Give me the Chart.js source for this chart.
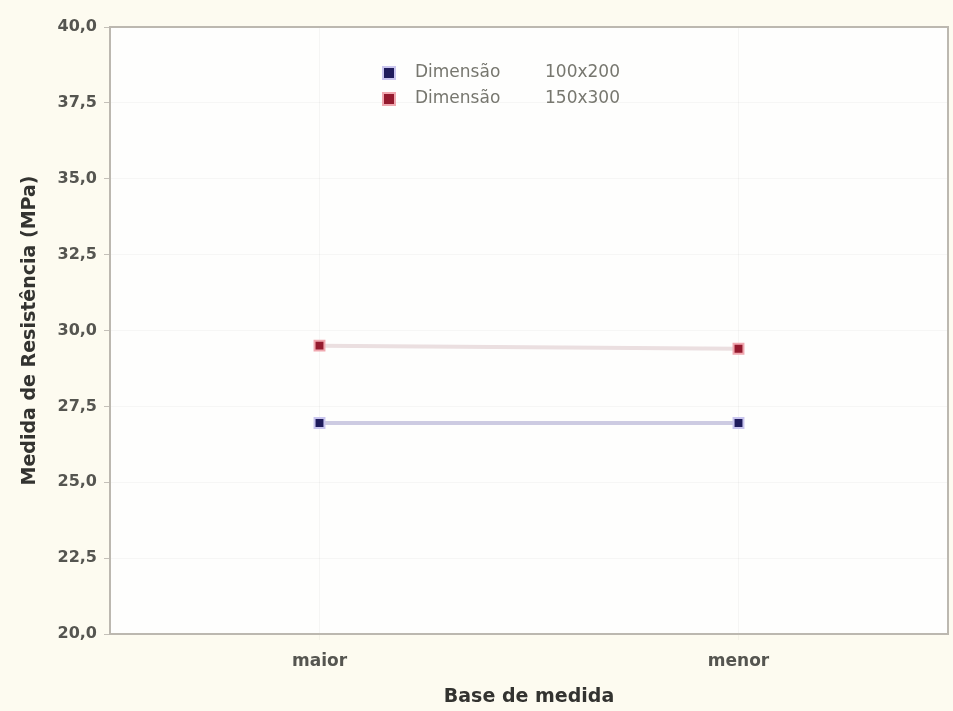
<!DOCTYPE html>
<html>
<head>
<meta charset="utf-8">
<script src="https://cdn.jsdelivr.net/npm/chart.js@4"></script>
<style>
  html, body { margin: 0; padding: 0; background: #fdfbf0; }
  #wrap { width: 953px; height: 711px; }
</style>
</head>
<body>
<div id="wrap"><canvas id="c" width="953" height="711"></canvas></div>
<script>
// Categories on the x axis
const categories = ['maior', 'menor'];
// Specimen sizes (one series each)
const specimenSizes = ['100x200', '150x300'];
const seriesPrefix = 'Dimensão';
// Mean values per category
const values100x200 = [26.95, 26.95];
const values150x300 = [29.5, 29.4];
// Y axis range and step
const yMin = 20, yMax = 40, yStep = 2.5;

const axisTitleX = 'Base de medida';
const axisTitleY = 'Medida de Resistência (MPa)';

const FONT = 'DejaVu Sans';

// Backgrounds: cream page, white plotting area, grey frame
const framePlugin = {
  id: 'frame',
  beforeDraw(chart) {
    const { ctx, chartArea: a } = chart;
    ctx.save();
    ctx.fillStyle = '#fdfbf0';
    ctx.fillRect(0, 0, chart.width, chart.height);
    ctx.fillStyle = '#fefefd';
    ctx.fillRect(a.left, a.top, a.right - a.left, a.bottom - a.top);
    ctx.restore();
  },
  afterDatasetsDraw(chart) {
    const { ctx, chartArea: a } = chart;
    ctx.save();
    ctx.strokeStyle = '#bcb8b0';
    ctx.lineWidth = 2;
    ctx.strokeRect(a.left, a.top, a.right - a.left, a.bottom - a.top);
    ctx.restore();
  }
};

// Legend drawn inside the plotting area, two columns of text
const innerLegend = {
  id: 'innerLegend',
  afterDraw(chart) {
    const { ctx } = chart;
    ctx.save();
    ctx.font = '17px "' + FONT + '"';
    ctx.textBaseline = 'middle';
    chart.data.datasets.forEach((ds, i) => {
      const y = 73 + i * 26;
      ctx.fillStyle = ds.pointBorderColor;
      ctx.fillRect(382, y - 7, 14, 14);
      ctx.fillStyle = ds.pointBackgroundColor;
      ctx.fillRect(384, y - 5, 10, 10);
      ctx.fillStyle = '#77776f';
      ctx.fillText(seriesPrefix, 415, y);
      ctx.fillText(specimenSizes[i], 545, y);
    });
    ctx.restore();
  }
};

new Chart(document.getElementById('c'), {
  type: 'line',
  data: {
    labels: categories,
    datasets: [
      {
        label: seriesPrefix + ' ' + specimenSizes[0],
        data: values100x200,
        borderColor: '#cdcbe2',
        borderWidth: 4,
        pointStyle: 'rect',
        pointRadius: 7,
        pointBackgroundColor: '#1f1c5c',
        pointBorderColor: '#c9c5ee',
        pointBorderWidth: 2
      },
      {
        label: seriesPrefix + ' ' + specimenSizes[1],
        data: values150x300,
        borderColor: '#ebdfe0',
        borderWidth: 4,
        pointStyle: 'rect',
        pointRadius: 7,
        pointBackgroundColor: '#951a2e',
        pointBorderColor: '#f0a8b0',
        pointBorderWidth: 2
      }
    ]
  },
  options: {
    responsive: false,
    animation: false,
    devicePixelRatio: 1,
    layout: { autoPadding: false, padding: { left: 0, top: 27, right: 5, bottom: 0 } },
    plugins: {
      legend: { display: false },
      tooltip: { enabled: false }
    },
    scales: {
      x: {
        type: 'category',
        offset: true,
        afterFit(s) { s.height = 77; },
        grid: {
          display: true,
          color: 'rgba(0,0,0,0.035)',
          tickLength: 6,
          offset: false
        },
        border: { display: false },
        ticks: {
          padding: 11,
          color: '#555550',
          font: { family: FONT, size: 17, weight: 'bold' }
        },
        title: {
          display: true,
          text: axisTitleX,
          color: '#333330',
          font: { family: FONT, size: 19, weight: 'bold' },
          padding: { top: 0, bottom: 3 }
        }
      },
      y: {
        min: yMin,
        max: yMax,
        afterFit(s) { s.width = 110; },
        grid: {
          color: 'rgba(0,0,0,0.03)',
          tickLength: 6,
          tickColor: '#c4c0b8'
        },
        border: { display: false },
        ticks: {
          stepSize: yStep,
          padding: 7,
          color: '#555550',
          font: { family: FONT, size: 16, weight: 'bold' },
          callback: v => v.toFixed(1).replace('.', ',')
        },
        title: {
          display: true,
          text: axisTitleY,
          color: '#333330',
          font: { family: FONT, size: 19, weight: 'bold' },
          padding: { top: 19, bottom: 0 }
        }
      }
    }
  },
  plugins: [framePlugin, innerLegend]
});
</script>
</body>
</html>
